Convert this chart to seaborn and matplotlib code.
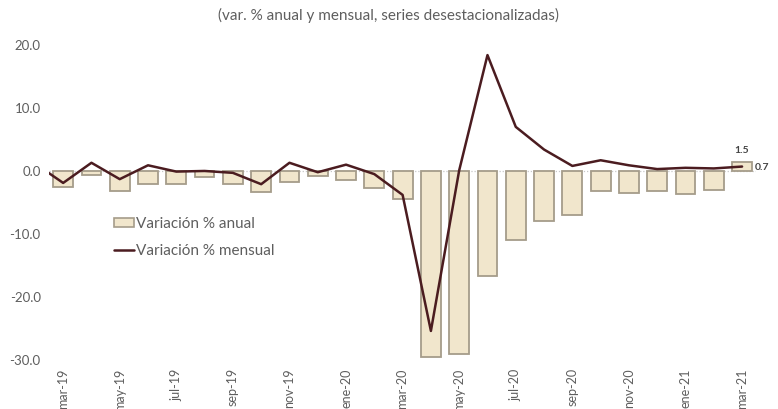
import numpy as np
import pandas as pd
import matplotlib
matplotlib.use('Agg')
import matplotlib.pyplot as plt
import seaborn as sns
from matplotlib.patches import Patch
from matplotlib.lines import Line2D

# Monthly categories, mar-19 .. mar-21
meses = ['mar-19', 'abr-19', 'may-19', 'jun-19', 'jul-19', 'ago-19', 'sep-19',
         'oct-19', 'nov-19', 'dic-19', 'ene-20', 'feb-20', 'mar-20', 'abr-20',
         'may-20', 'jun-20', 'jul-20', 'ago-20', 'sep-20', 'oct-20', 'nov-20',
         'dic-20', 'ene-21', 'feb-21', 'mar-21']

# Variación % anual (bars)
var_anual = [-2.5, -0.7, -3.2, -2.0, -2.0, -1.0, -2.0, -3.4, -1.7, -0.8, -1.4,
             -2.7, -4.4, -29.6, -29.0, -16.7, -10.9, -7.9, -7.0, -3.2, -3.5,
             -3.2, -3.7, -3.0, 1.5]

# Variación % mensual (line), first value is feb-19 (clipped by the axis edge)
var_mensual_feb19 = 1.2
var_mensual = [-1.9, 1.3, -1.3, 0.9, -0.1, 0.0, -0.3, -2.1, 1.3, -0.2, 1.0,
               -0.5, -3.8, -25.4, 0.1, 18.4, 7.0, 3.4, 0.8, 1.7, 0.9, 0.3,
               0.5, 0.4, 0.7]

tick_meses = meses[::2]

bar_color = '#f1e6cc'
bar_edge = '#a59c8a'
line_color = '#4b1c20'
text_color = '#5e5e5e'

df_bar = pd.DataFrame({'mes': meses, 'anual': var_anual})
df_line = pd.DataFrame({'pos': np.arange(-1, len(meses)),
                        'mensual': [var_mensual_feb19] + var_mensual})

sns.set_style('white')
plt.rcParams['font.family'] = ['Lato', 'DejaVu Sans']

fig = plt.figure(figsize=(7.78, 4.09), dpi=100)
ax = fig.add_axes([0.063, 0.12, 0.909, 0.77])

ax.axhline(0, color='#c8c8c8', lw=0.9, ls=(0, (1, 1.5)), zorder=0)

sns.barplot(data=df_bar, x='mes', y='anual', color=bar_color, width=0.7,
            edgecolor=bar_edge, linewidth=1.3, saturation=1, ax=ax, zorder=2)
sns.lineplot(data=df_line, x='pos', y='mensual', color=line_color, lw=1.8,
             ax=ax, zorder=3)

ax.set_xlim(-0.5, len(meses) - 0.5)
ax.set_ylim(-30, 20)
ax.set_yticks([20, 10, 0, -10, -20, -30])
ax.set_yticklabels([f'{v:.1f}' for v in [20, 10, 0, -10, -20, -30]],
                   color=text_color, fontsize=9.5)
ax.set_xticks(range(0, len(meses), 2))
ax.set_xticklabels(tick_meses, rotation=90, color=text_color, fontsize=9)
ax.tick_params(axis='both', length=0, pad=6)
ax.set_xlabel('')
ax.set_ylabel('')
for s in ax.spines.values():
    s.set_visible(False)

# Last-value labels
last = len(meses) - 1
ax.annotate(f'{var_anual[-1]:.1f}', (last, var_anual[-1]), xytext=(0, 5),
            textcoords='offset points', ha='center', va='bottom',
            fontsize=7.5, fontweight='bold', color='#444444')
ax.annotate(f'{var_mensual[-1]:.1f}', (last, var_mensual[-1]), xytext=(9, -1),
            textcoords='offset points', ha='left', va='center',
            fontsize=7.5, fontweight='bold', color='#444444')

handles = [Patch(facecolor=bar_color, edgecolor=bar_edge, lw=1.2),
           Line2D([0], [0], color=line_color, lw=1.8)]
leg = ax.legend(handles, ['Variación % anual', 'Variación % mensual'],
                loc='upper left', bbox_to_anchor=(0.072, 0.497), frameon=False,
                fontsize=11, handlelength=1.3, handleheight=0.5,
                handletextpad=0.15, labelspacing=0.85)
for t in leg.get_texts():
    t.set_color(text_color)

fig.text(0.5, 0.962, '(var. % anual y mensual, series desestacionalizadas)',
         ha='center', va='center', fontsize=11, color=text_color)

fig.savefig('out.png', dpi=100)
